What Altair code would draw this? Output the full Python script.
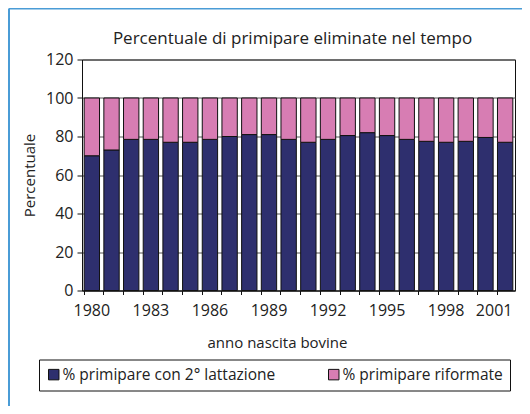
import altair as alt
import pandas as pd

years = list(range(1980, 2002))
second_lact = [70, 73, 78.5, 78.5, 77, 77, 78.5, 80, 81, 81, 78.5, 77,
               78.5, 80.5, 82, 80.5, 78.5, 77.5, 77, 77.5, 79.5, 77]
culled = [round(100 - v, 1) for v in second_lact]
series_names = ["% primipare con 2° lattazione", "% primipare riformate"]
series_colors = ["#2e2f6e", "#d77db3"]

rows = []
for y, a, b in zip(years, second_lact, culled):
    rows.append({"anno": y, "serie": series_names[0], "valore": a, "ord": 0})
    rows.append({"anno": y, "serie": series_names[1], "valore": b, "ord": 1})
df = pd.DataFrame(rows)

FONT = "Open Sans"

xscale = alt.Scale(paddingInner=0.22, paddingOuter=0.11)

bars = alt.Chart(df).mark_bar(stroke="#111111", strokeWidth=1).encode(
    x=alt.X("anno:O", scale=xscale, sort=years,
            axis=alt.Axis(orient="bottom", title="anno nascita bovine", labelAngle=0,
                          labelExpr="(datum.value - 1980) % 3 == 0 ? datum.value : ''",
                          labelOffset={"condition": {"test": "datum.value == 2001", "value": -11}, "value": 0},
                          ticks=False, domain=False, labelPadding=12,
                          labelFontSize=16, labelFont=FONT, labelColor="#222222",
                          titleFont=FONT, titleFontSize=15, titleFontWeight="normal",
                          titleColor="#222222", titlePadding=17, titleX=195,
                          labelOverlap=False)),
    y=alt.Y("valore:Q", stack="zero",
            scale=alt.Scale(domain=[0, 120], nice=False),
            axis=alt.Axis(values=[0, 20, 40, 60, 80, 100, 120], title="Percentuale",
                          tickSize=5, tickColor="#111111", domainColor="#111111",
                          gridColor="#555555", gridWidth=1, labelPadding=4,
                          labelFontSize=16, labelFont=FONT, labelColor="#222222",
                          titleFont=FONT, titleFontSize=15, titleFontWeight="normal",
                          titleColor="#222222", titlePadding=8)),
    color=alt.Color("serie:N",
                    scale=alt.Scale(domain=series_names, range=series_colors),
                    legend=alt.Legend(orient="none", legendX=-43, legendY=300,
                                      direction="horizontal", title=None,
                                      symbolType="square", symbolSize=110,
                                      symbolStrokeColor="#111111", symbolStrokeWidth=1,
                                      labelFont=FONT, labelFontSize=15.5, labelColor="#222222",
                                      labelOffset=1, columnPadding=50, padding=7,
                                      strokeColor="#111111", labelLimit=400)),
    order=alt.Order("ord:Q"),
)

ticks = alt.Chart(df).mark_tick(opacity=0).encode(
    x=alt.X("anno:O", scale=xscale, sort=years,
            axis=alt.Axis(orient="bottom", title=None, labels=False, bandPosition=0,
                          tickSize=4, tickColor="#111111", domainColor="#111111")),
)

frame = alt.Chart(alt.Data(values=[{}])).mark_rule(color="#4a9cd6", strokeWidth=2).encode(
    x=alt.value(-73), x2=alt.value(440), y=alt.value(-51), y2=alt.value(-51))
frame2 = alt.Chart(alt.Data(values=[{}])).mark_rule(color="#4a9cd6", strokeWidth=2).encode(
    x=alt.value(-73), x2=alt.value(-73), y=alt.value(-51), y2=alt.value(347))

chart = alt.layer(bars, ticks, frame, frame2).resolve_axis(x="independent").properties(
    width=433, height=231,
    autosize=alt.AutoSizeParams(type="none"),
    padding={"left": 74, "top": 51.5, "right": 7, "bottom": 115.5},
    title=alt.TitleParams("Percentuale di primipare eliminate nel tempo", font=FONT,
                          fontSize=17, fontWeight="normal", color="#222222",
                          anchor="middle", frame="group", dx=-6, offset=0, dy=40),
    background="white",
).configure_view(stroke="#111111", strokeWidth=1)

chart.save("out.html", embed_options={"renderer": "svg", "actions": False})
